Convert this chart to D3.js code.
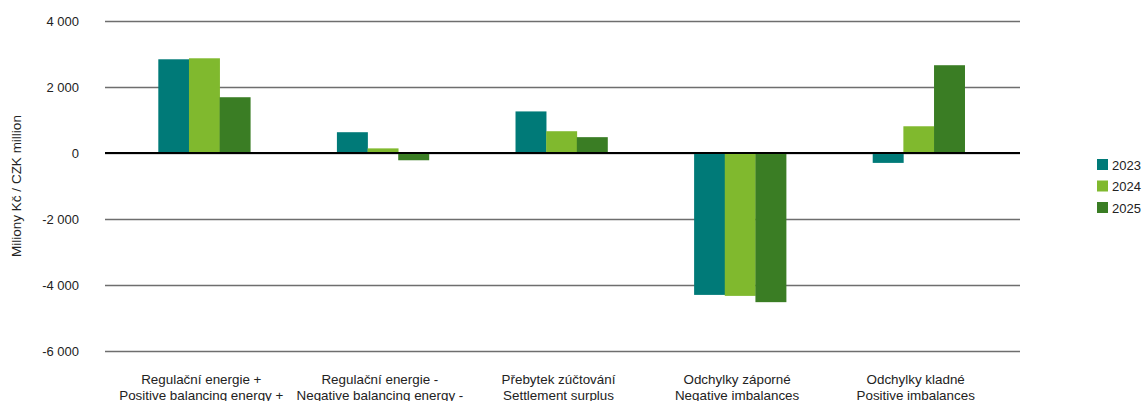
<!DOCTYPE html>
<html lang="en">
  <head>
    <meta charset="utf-8">
    <title>Balancing chart</title>
    <script src="https://d3js.org/d3.v7.min.js"></script>
    <style>
      body { margin: 0; background: #ffffff; }
      svg { display: block; }
      text { font-family: "Liberation Sans", Arial, sans-serif; fill: #222222; }
      .tick text { font-size: 13px; }
      .cat { font-size: 13.4px; text-anchor: middle; }
      .legend text { font-size: 13px; }
    </style>
  </head>
  <body>
    <svg id="chart" width="1145" height="401"></svg>
    <script>

    // data
    const categories = [
      ["Regulační energie +", "Positive balancing energy +"],
      ["Regulační energie -", "Negative balancing energy -"],
      ["Přebytek zúčtování", "Settlement surplus"],
      ["Odchylky záporné", "Negative imbalances"],
      ["Odchylky kladné", "Positive imbalances"]
    ];
    const years = ["2023", "2024", "2025"];
    const values2023 = [2840, 630, 1260, -4300, -300];
    const values2024 = [2870, 140, 660, -4330, 810];
    const values2025 = [1690, -220, 480, -4520, 2660];
    const yTicks = [4000, 2000, 0, -2000, -4000, -6000];
    const colors = ["#007a78", "#80b92e", "#3a7d24"];

    const series = [values2023, values2024, values2025];

    // layout
    const margin = { top: 21, left: 105, right: 125, bottom: 50 };
    const width = 1145, height = 401;
    const plotRight = width - margin.right;   // 1020
    const plotBottom = 351;

    const svg = d3.select('#chart');

    const y = d3.scaleLinear()
      .domain([-6000, 4000])
      .range([plotBottom, margin.top]);

    const x0 = d3.scaleBand()
      .domain(d3.range(categories.length))
      .range([115, 1008]);

    const x1 = d3.scaleBand()
      .domain(years)
      .range([0, x0.bandwidth() * 0.515]);

    // grid + tick labels
    const yAxis = svg.append('g')
      .attr('transform', 'translate(' + margin.left + ',0)')
      .call(d3.axisLeft(y)
        .tickValues(yTicks)
        .tickSize(-(plotRight - margin.left))
        .tickPadding(26)
        .tickFormat(d => d3.format(',')(d).replace(/,/g, ' ').replace('−', '-')));

    yAxis.select('.domain').remove();
    yAxis.selectAll('.tick line')
      .attr('stroke', '#6e6e6e')
      .attr('stroke-width', 1.5);

    // bars
    const groups = svg.append('g')
      .selectAll('g')
      .data(categories)
      .join('g')
      .attr('transform', (d, i) => 'translate(' + (x0(i) + (x0.bandwidth() - x1.range()[1]) / 2) + ',0)');

    groups.selectAll('rect')
      .data((d, i) => series.map((s, k) => ({ year: years[k], value: s[i], k: k })))
      .join('rect')
      .attr('x', d => x1(d.year))
      .attr('width', x1.bandwidth() + 0.3)
      .attr('y', d => y(Math.max(0, d.value)))
      .attr('height', d => Math.abs(y(d.value) - y(0)))
      .attr('fill', d => colors[d.k]);

    // zero line
    svg.append('line')
      .attr('x1', margin.left)
      .attr('x2', plotRight)
      .attr('y1', y(0))
      .attr('y2', y(0))
      .attr('stroke', '#000000')
      .attr('stroke-width', 2);

    // category labels
    const cats = svg.append('g')
      .selectAll('text')
      .data(categories)
      .join('text')
      .attr('class', 'cat')
      .attr('x', (d, i) => x0(i) + x0.bandwidth() / 2 - 3)
      .attr('y', 384);

    cats.selectAll('tspan')
      .data(d => d)
      .join('tspan')
      .attr('x', function() { return d3.select(this.parentNode).attr('x'); })
      .attr('dy', (d, i) => i === 0 ? 0 : 16)
      .text(d => d);

    // y title
    svg.append('text')
      .attr('transform', 'translate(21,186) rotate(-90)')
      .attr('text-anchor', 'middle')
      .style('font-size', '13.5px')
      .text('Miliony Kč / CZK million');

    // legend
    const legend = svg.append('g')
      .attr('class', 'legend')
      .selectAll('g')
      .data(years)
      .join('g')
      .attr('transform', (d, i) => 'translate(1097,' + (159 + i * 21.5) + ')');

    legend.append('rect')
      .attr('width', 11)
      .attr('height', 11)
      .attr('fill', (d, i) => colors[i]);

    legend.append('text')
      .attr('x', 15)
      .attr('y', 10.5)
      .text(d => d);

    </script>
  </body>
</html>
